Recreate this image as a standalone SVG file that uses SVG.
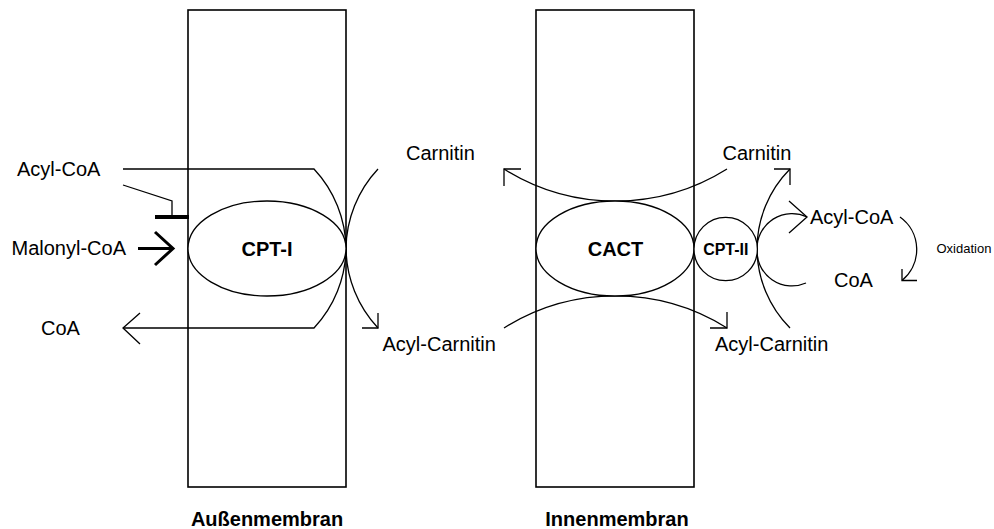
<svg xmlns="http://www.w3.org/2000/svg" width="994" height="529" viewBox="0 0 994 529">
<style>
.ln{fill:none;stroke:#000;stroke-width:1.3}
.mem{fill:#fff;stroke:#000;stroke-width:1.6}
.enz{fill:#fff;stroke:#000;stroke-width:1.3}
.t{font-family:"Liberation Sans",Arial,sans-serif;font-size:20px;fill:#000}
.b{font-family:"Liberation Sans",Arial,sans-serif;font-size:20px;font-weight:bold;fill:#000}
</style>
<rect width="994" height="529" fill="#fff"/>
<g id="membranes">
<rect id="aussenmembran" class="mem" x="188" y="10" width="158" height="477"/>
<rect id="innenmembran" class="mem" x="536" y="10" width="158" height="477"/>
</g>
<g id="connectors">
<path class="ln" d="M123,169 H314 A118.5 118.5 0 0 1 346,248.5 A118.5 118.5 0 0 1 314,328 H123"/>
<path class="ln" d="M140,313 L123,328 L140,344"/>
<path class="ln" d="M123,185 L172,201 V217"/>
<path fill="none" stroke="#000" stroke-width="4" d="M155,217 H189"/>
<path fill="none" stroke="#000" stroke-width="3" d="M138,248.5 H172 M155,232 L173,248.5 L155,265"/>
<path class="ln" d="M378,169 A118.5 118.5 0 0 0 346,248.5 A118.5 118.5 0 0 0 378,328"/>
<path class="ln" d="M378,313 V328 H362"/>
<path class="ln" d="M504,169 A210 210 0 0 0 727,169"/>
<path class="ln" d="M521,169 H504 V186"/>
<path class="ln" d="M504,328 A210 210 0 0 1 727,328"/>
<path class="ln" d="M727,312 V328 H710"/>
<path class="ln" d="M790,169 A113.5 113.5 0 0 0 757,249 A113.5 113.5 0 0 0 790,328"/>
<path class="ln" d="M774,169 H790 V185"/>
<path class="ln" d="M757,249 A35 35 0 0 1 807,217"/>
<path class="ln" d="M789,201 L807,217 L789,233"/>
<path class="ln" d="M757,249 A35 35 0 0 0 806,283"/>
<path class="ln" d="M900,217 A40 40 0 0 1 902,280.5"/>
<path class="ln" d="M902,269 V280.5 H917"/>
</g>
<g id="cpt1"><ellipse class="enz" cx="267" cy="248.5" rx="79" ry="47.5"/><text class="b" x="267" y="256" text-anchor="middle">CPT-I</text></g>
<g id="cact"><ellipse class="enz" cx="615" cy="248.5" rx="79" ry="47.5"/><text class="b" x="615.5" y="256" text-anchor="middle">CACT</text></g>
<g id="cpt2"><circle class="enz" cx="725.7" cy="249" r="31.7"/><text class="b" x="725.8" y="255" text-anchor="middle" style="font-size:16px">CPT-II</text></g>
<g id="labels">
<text class="t" x="17" y="176">Acyl-CoA</text>
<text class="t" x="11.5" y="255">Malonyl-CoA</text>
<text class="t" x="41" y="335">CoA</text>
<text class="t" x="406" y="160">Carnitin</text>
<text class="t" x="382.5" y="350.5">Acyl-Carnitin</text>
<text class="t" x="722.5" y="160">Carnitin</text>
<text class="t" x="810" y="223.5">Acyl-CoA</text>
<text class="t" x="834" y="286.5">CoA</text>
<text class="t" x="715" y="350.5">Acyl-Carnitin</text>
<text class="t" x="936.5" y="252.5" style="font-size:13px">Oxidation</text>
<text class="b" x="267" y="526" text-anchor="middle">Außenmembran</text>
<text class="b" x="617" y="526" text-anchor="middle">Innenmembran</text>
</g>
</svg>
